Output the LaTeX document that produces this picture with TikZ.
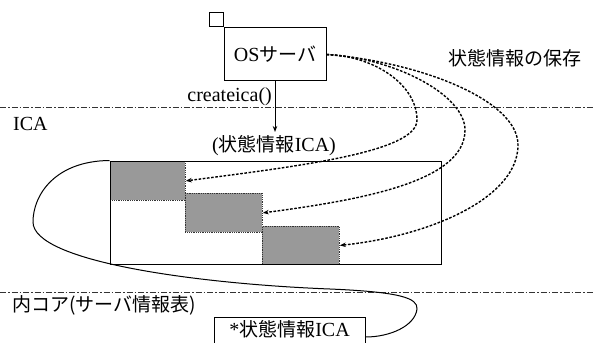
\documentclass[tikz,border=0pt]{standalone}
\usepackage{fontspec}
\setmainfont{Liberation Serif}
\newfontfamily\jp[Scale=0.95]{Noto Sans CJK JP}
\usetikzlibrary{arrows.meta}
\begin{document}
\begin{tikzpicture}[x=1pt,y=-1pt, font=\fontsize{20}{22}\selectfont,
  box/.style={draw, line width=1pt, inner sep=0pt},
  sepline/.style={line width=0.9pt, black!80, dash pattern=on 6pt off 2pt on 1.5pt off 2pt},
  saveflow/.style={line width=1.4pt, dash pattern=on 2.6pt off 1.6pt, -{Stealth[length=6pt,width=4.5pt]}},
  block/.style={draw=black!80, densely dotted, line width=0.8pt, fill=black!40, inner sep=0pt, anchor=north west},
  link/.style={line width=1pt},
  lab/.style={inner sep=0pt}]
\clip (0,0) rectangle (593,342);
\useasboundingbox (0,0) rectangle (593,342);
% separator lines
\coordinate (l1a) at (0,107); \coordinate (l1b) at (593,107);
\coordinate (l2a) at (0,292); \coordinate (l2b) at (593,292);
\draw[sepline] (l1a) -- (l1b);
\draw[sepline] (l2a) -- (l2b);
% OS server
\node[box, minimum width=102pt, minimum height=53pt] (os) at (275,54.5) {OS{\jp サーバ}};
\node[box, minimum size=14pt, anchor=south east] (sq) at (os.north west) {};
% labels
\node[lab, anchor=base east] (ce) at (272,101) {createica()};
\node[lab, anchor=base west] (icalab) at (13,130) {ICA};
\node[lab] (stlab) at (274,146) {({\jp 状態情報}ICA)};
\node[lab, anchor=west] (savelab) at (448,58) {\jp 状態情報の保存};
\node[lab, anchor=west] (corelab) at (12,305) {\jp 内コア(サーバ情報表)};
\coordinate (tip) at (275,132);
\draw[link, -{Stealth[length=6pt,width=4.5pt]}] (os.south) -- (tip);
% ICA area
\node[block, minimum width=75pt, minimum height=39pt] (b1) at (110,161) {};
\node[block, minimum width=77pt, minimum height=39pt] (b2) at (185,193) {};
\node[block, minimum width=77pt, minimum height=38pt] (b3) at (262,226) {};
\node[box, minimum width=331pt, minimum height=103pt] (ica) at (275.5,212.5) {};
% bottom box
\node[box, anchor=north, minimum width=151pt, inner xsep=4pt, inner ysep=2pt, text height=17pt, text depth=12pt] (sb) at (289.5,317) {*{\jp 状態情報}ICA};
% save flows
\draw[saveflow] (os.east) .. controls (375,56) and (417,85) .. (417,120) .. controls (417,152) and (300,166) .. (b1.east);
\draw[saveflow] (os.east) .. controls (395,58) and (465,95) .. (465,130) .. controls (465,182) and (360,200) .. (b2.east);
\draw[saveflow] (os.east) .. controls (420,62) and (518,100) .. (518,145) .. controls (518,198) and (430,236) .. (b3.east);
% link from ICA to table entry
\draw[link] (ica.north west) .. controls (55,161) and (33,195) .. (33,222) .. controls (33,262) and (200,284) .. (330,289) .. controls (400,292) and (418,298) .. (417,309) .. controls (415,326) and (390,337) .. ([yshift=-20pt]sb.north east);
\end{tikzpicture}
\end{document}
